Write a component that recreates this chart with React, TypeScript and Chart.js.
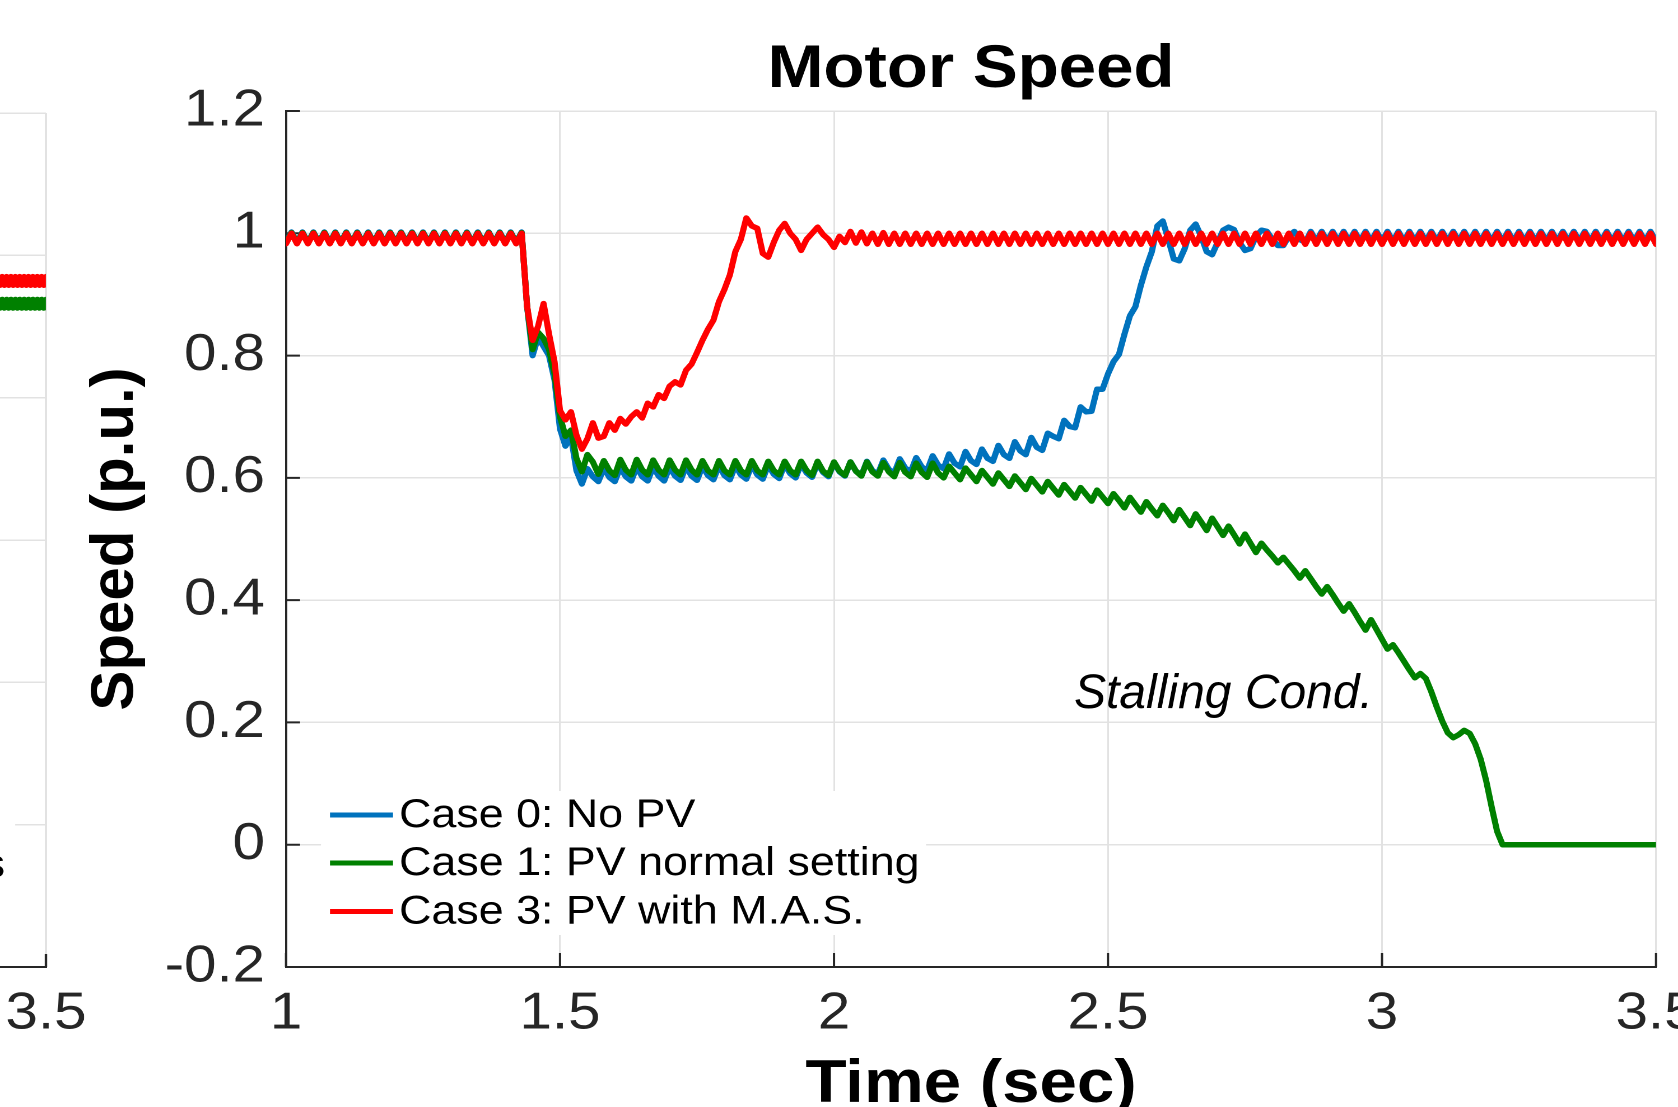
import React, { useEffect, useRef } from 'react';
import { Chart, registerables } from 'chart.js';

Chart.register(...registerables);

// ---------------- data ----------------
const xTickValues = [1, 1.5, 2, 2.5, 3, 3.5];
const xTickLabels = ['1', '1.5', '2', '2.5', '3', '3.5'];
const yTickValues = [-0.2, 0, 0.2, 0.4, 0.6, 0.8, 1, 1.2];
const yTickLabels = ['-0.2', '0', '0.2', '0.4', '0.6', '0.8', '1', '1.2'];

// sampled signals: t = 1.00 s ... 3.50 s, one sample every 0.01 s
const T_START = 1.0;
const T_STEP = 0.01;

// Case 0: No PV (blue)
const case0 = [
  0.985, 1.002, 0.985, 1.002, 0.985, 1.002, 0.985, 1.002, 0.985, 1.002,
  0.985, 1.002, 0.985, 1.002, 0.985, 1.002, 0.985, 1.002, 0.985, 1.002,
  0.985, 1.002, 0.985, 1.002, 0.985, 1.002, 0.985, 1.002, 0.985, 1.002,
  0.985, 1.002, 0.985, 1.002, 0.985, 1.002, 0.985, 1.002, 0.985, 1.002,
  0.985, 1.002, 0.985, 1.002, 0.88, 0.80, 0.83, 0.815, 0.80, 0.76,
  0.68, 0.652, 0.668, 0.612, 0.59, 0.615, 0.602, 0.594, 0.616, 0.601,
  0.594, 0.617, 0.602, 0.595, 0.618, 0.602, 0.595, 0.618, 0.603, 0.595,
  0.618, 0.603, 0.596, 0.619, 0.603, 0.596, 0.619, 0.604, 0.597, 0.62,
  0.604, 0.597, 0.62, 0.605, 0.598, 0.621, 0.605, 0.598, 0.621, 0.606,
  0.599, 0.622, 0.607, 0.60, 0.623, 0.608, 0.601, 0.624, 0.609, 0.602,
  0.625, 0.61, 0.603, 0.626, 0.611, 0.604, 0.627, 0.612, 0.606, 0.629,
  0.614, 0.608, 0.631, 0.616, 0.61, 0.633, 0.618, 0.612, 0.636, 0.621,
  0.615, 0.639, 0.624, 0.618, 0.643, 0.628, 0.622, 0.647, 0.632, 0.627,
  0.653, 0.638, 0.632, 0.659, 0.644, 0.638, 0.666, 0.65, 0.645, 0.673,
  0.668, 0.664, 0.694, 0.684, 0.682, 0.716, 0.708, 0.709, 0.745, 0.745,
  0.77, 0.79, 0.802, 0.835, 0.865, 0.88, 0.915, 0.945, 0.97, 1.012,
  1.02, 0.99, 0.958, 0.955, 0.975, 1.005, 1.015, 0.995, 0.97, 0.965,
  0.985, 1.005, 1.01, 1.006, 0.985, 0.972, 0.975, 0.995, 1.005, 1.003,
  0.99, 0.98, 0.98, 0.995, 1.003, 0.99, 0.985, 1.003, 0.987, 1.003,
  0.987, 1.003, 0.987, 1.003, 0.987, 1.003, 0.987, 1.003, 0.987, 1.003,
  0.987, 1.003, 0.987, 1.003, 0.987, 1.003, 0.987, 1.003, 0.987, 1.003,
  0.987, 1.003, 0.987, 1.003, 0.987, 1.003, 0.987, 1.003, 0.987, 1.003,
  0.987, 1.003, 0.987, 1.003, 0.987, 1.003, 0.987, 1.003, 0.987, 1.003,
  0.987, 1.003, 0.987, 1.003, 0.987, 1.003, 0.987, 1.003, 0.987, 1.003,
  0.987, 1.003, 0.987, 1.003, 0.987, 1.003, 0.987, 1.003, 0.987, 1.003,
  0.987,
];

// Case 1: PV normal setting (green)
const case1 = [
  0.984, 1.001, 0.984, 1.001, 0.984, 1.001, 0.984, 1.001, 0.984, 1.001,
  0.984, 1.001, 0.984, 1.001, 0.984, 1.001, 0.984, 1.001, 0.984, 1.001,
  0.984, 1.001, 0.984, 1.001, 0.984, 1.001, 0.984, 1.001, 0.984, 1.001,
  0.984, 1.001, 0.984, 1.001, 0.984, 1.001, 0.984, 1.001, 0.984, 1.001,
  0.984, 1.001, 0.984, 1.001, 0.88, 0.81, 0.838, 0.828, 0.81, 0.77,
  0.70, 0.668, 0.678, 0.632, 0.61, 0.638, 0.626, 0.606, 0.628, 0.612,
  0.604, 0.63, 0.613, 0.605, 0.63, 0.613, 0.605, 0.629, 0.613, 0.605,
  0.629, 0.613, 0.605, 0.629, 0.613, 0.605, 0.628, 0.612, 0.605, 0.628,
  0.612, 0.605, 0.628, 0.612, 0.605, 0.628, 0.612, 0.605, 0.627, 0.612,
  0.605, 0.627, 0.612, 0.605, 0.627, 0.612, 0.604, 0.627, 0.611, 0.604,
  0.626, 0.611, 0.604, 0.626, 0.611, 0.603, 0.626, 0.61, 0.603, 0.625,
  0.61, 0.602, 0.625, 0.609, 0.602, 0.624, 0.609, 0.601, 0.624, 0.608,
  0.600, 0.619, 0.608, 0.597, 0.616, 0.605, 0.594, 0.612, 0.601, 0.590,
  0.608, 0.597, 0.586, 0.603, 0.592, 0.581, 0.599, 0.588, 0.577, 0.594,
  0.583, 0.572, 0.589, 0.578, 0.567, 0.584, 0.573, 0.562, 0.580, 0.569,
  0.558, 0.574, 0.563, 0.551, 0.568, 0.556, 0.544, 0.561, 0.549, 0.538,
  0.555, 0.543, 0.530, 0.548, 0.535, 0.522, 0.541, 0.528, 0.514, 0.534,
  0.520, 0.506, 0.521, 0.507, 0.492, 0.508, 0.493, 0.478, 0.493, 0.482,
  0.472, 0.461, 0.470, 0.459, 0.448, 0.436, 0.448, 0.435, 0.422, 0.410,
  0.422, 0.409, 0.395, 0.382, 0.394, 0.380, 0.365, 0.351, 0.368, 0.352,
  0.336, 0.320, 0.327, 0.314, 0.300, 0.286, 0.273, 0.280, 0.272, 0.250,
  0.225, 0.202, 0.183, 0.175, 0.180, 0.187, 0.182, 0.165, 0.140, 0.105,
  0.062, 0.022, 0, 0, 0, 0, 0, 0, 0, 0,
  0, 0, 0, 0, 0, 0, 0, 0, 0, 0,
  0, 0, 0, 0, 0, 0, 0, 0, 0, 0,
  0,
];

// Case 3: PV with M.A.S. (red)
const case3 = [
  0.983, 1.0, 0.983, 1.0, 0.983, 1.0, 0.983, 1.0, 0.983, 1.0,
  0.983, 1.0, 0.983, 1.0, 0.983, 1.0, 0.983, 1.0, 0.983, 1.0,
  0.983, 1.0, 0.983, 1.0, 0.983, 1.0, 0.983, 1.0, 0.983, 1.0,
  0.983, 1.0, 0.983, 1.0, 0.983, 1.0, 0.983, 1.0, 0.983, 1.0,
  0.983, 1.0, 0.983, 1.0, 0.88, 0.825, 0.848, 0.885, 0.835, 0.79,
  0.71, 0.695, 0.708, 0.67, 0.647, 0.664, 0.69, 0.665, 0.668, 0.69,
  0.678, 0.697, 0.688, 0.70, 0.708, 0.698, 0.722, 0.716, 0.736, 0.73,
  0.75, 0.757, 0.752, 0.776, 0.786, 0.805, 0.825, 0.843, 0.858, 0.888,
  0.908, 0.932, 0.97, 0.99, 1.025, 1.012, 1.008, 0.967, 0.961, 0.985,
  1.005, 1.016, 1.0, 0.99, 0.972, 0.99, 1.0, 1.01, 0.998, 0.99,
  0.977, 0.995, 0.985, 1.003, 0.984, 1.002, 0.983, 1.0, 0.982, 1.001,
  0.982, 1.0, 0.982, 1.0, 0.982, 1.0, 0.982, 1.0, 0.982, 1.0,
  0.982, 1.0, 0.982, 1.0, 0.982, 1.0, 0.982, 1.0, 0.982, 1.0,
  0.982, 1.0, 0.982, 1.0, 0.982, 1.0, 0.982, 1.0, 0.982, 1.0,
  0.982, 1.0, 0.982, 1.0, 0.982, 1.0, 0.982, 1.0, 0.982, 1.0,
  0.982, 1.0, 0.982, 1.0, 0.982, 1.0, 0.982, 1.0, 0.982, 1.0,
  0.982, 1.0, 0.982, 1.0, 0.982, 1.0, 0.982, 1.0, 0.982, 1.0,
  0.982, 1.0, 0.982, 1.0, 0.982, 1.0, 0.982, 1.0, 0.982, 1.0,
  0.982, 1.0, 0.982, 1.0, 0.982, 1.0, 0.982, 1.0, 0.982, 1.0,
  0.982, 1.0, 0.982, 1.0, 0.982, 1.0, 0.982, 1.0, 0.982, 1.0,
  0.982, 1.0, 0.982, 1.0, 0.982, 1.0, 0.982, 1.0, 0.982, 1.0,
  0.982, 1.0, 0.982, 1.0, 0.982, 1.0, 0.982, 1.0, 0.982, 1.0,
  0.982, 1.0, 0.982, 1.0, 0.982, 1.0, 0.982, 1.0, 0.982, 1.0,
  0.982, 1.0, 0.982, 1.0, 0.982, 1.0, 0.982, 1.0, 0.982, 1.0,
  0.982, 1.0, 0.982, 1.0, 0.982, 1.0, 0.982, 1.0, 0.982, 1.0,
  0.982,
];

const seriesLabels = ['Case 0: No PV', 'Case 1: PV normal setting', 'Case 3: PV with M.A.S.'];
const seriesColors = ['#0072BD', '#008000', '#FF0000'];

const titleText = 'Motor Speed';
const xTitle = 'Time (sec)';
const yTitle = 'Speed (p.u.)';
const annotationText = 'Stalling Cond.';
const annotationT = 2.438;
const annotationV = 0.224;

// neighbouring (cropped) panel on the left: only its last samples are visible
const leftXTickValues = [3, 3.5];
const leftXTickLabels = ['3', '3.5'];
const leftYTickValues = [0, 0.2, 0.4, 0.6, 0.8, 1, 1.2];
const LEFT_T_START = 3.4;
const LEFT_T_STEP = 0.004;
const leftRed = [
  0.958, 0.970, 0.958, 0.970, 0.958, 0.970, 0.958, 0.970, 0.958, 0.970,
  0.958, 0.970, 0.958, 0.970, 0.958, 0.970, 0.958, 0.970, 0.958, 0.970,
  0.958, 0.970, 0.958, 0.970, 0.958, 0.970,
];
const leftGreen = [
  0.926, 0.938, 0.926, 0.938, 0.926, 0.938, 0.926, 0.938, 0.926, 0.938,
  0.926, 0.938, 0.926, 0.938, 0.926, 0.938, 0.926, 0.938, 0.926, 0.938,
  0.926, 0.938, 0.926, 0.938, 0.926, 0.938,
];
const leftLegendTail = 's';

// ---------------- layout / style ----------------
const FONT = '"Liberation Sans", Arial, Helvetica, sans-serif';
const AXIS_COLOR = '#262626';
const GRID_COLOR = '#e2e2e2';
const LINE_W = 5.5;
const PAGE_W = 1678;
const PAGE_H = 1107;
const STRETCH = 1.12; // the figure is horizontally stretched
const MAIN_W = Math.round(PAGE_W / STRETCH);
const LEFT_CSS_LEFT = -300;
const LEFT_CSS_W = 400;
const LEFT_W = Math.round(LEFT_CSS_W / STRETCH);

const PLOT_LEFT = 286;
const PLOT_RIGHT = 1656;
const PLOT_TOP = 111;
const PLOT_BOTTOM = 967;

const toPoints = (start: number, step: number, vals: number[]) =>
  vals.map((v, i) => ({ x: +(start + i * step).toFixed(4), y: v }));

function makeMain(canvas: HTMLCanvasElement) {
  const SX = PAGE_W / MAIN_W;
  const fx = (px: number) => px / SX;

  const decor = {
    id: 'mainDecor',
    beforeDatasetsDraw(chart: any) {
      const { ctx, chartArea: a, scales } = chart;
      ctx.save();
      ctx.strokeStyle = AXIS_COLOR;
      ctx.lineWidth = 2;
      ctx.beginPath();
      yTickValues.forEach((v) => {
        const p = scales.y.getPixelForValue(v);
        ctx.moveTo(a.left, p);
        ctx.lineTo(a.left + fx(14), p);
      });
      xTickValues.forEach((v) => {
        const p = scales.x.getPixelForValue(v);
        ctx.moveTo(p, a.bottom);
        ctx.lineTo(p, a.bottom - 14);
      });
      ctx.stroke();
      ctx.restore();
    },
    afterDatasetsDraw(chart: any) {
      const { ctx, scales } = chart;
      // legend
      ctx.save();
      ctx.fillStyle = '#ffffff';
      ctx.fillRect(fx(321), 791, fx(926) - fx(321), 935 - 791);
      const rows = [815, 863, 911.5];
      seriesLabels.forEach((lab, k) => {
        const yy = rows[k];
        ctx.strokeStyle = seriesColors[k];
        ctx.lineWidth = 5;
        ctx.lineCap = 'butt';
        ctx.beginPath();
        ctx.moveTo(fx(330), yy);
        ctx.lineTo(fx(393), yy);
        ctx.stroke();
        ctx.fillStyle = '#000000';
        ctx.font = `40px ${FONT}`;
        ctx.textAlign = 'left';
        ctx.textBaseline = 'middle';
        ctx.fillText(lab, fx(399), yy + 1);
      });
      ctx.restore();

      // annotation (not stretched)
      ctx.save();
      ctx.translate(scales.x.getPixelForValue(annotationT), scales.y.getPixelForValue(annotationV));
      ctx.scale(1 / SX, 1);
      ctx.font = `italic 48px ${FONT}`;
      ctx.fillStyle = '#000000';
      ctx.textAlign = 'left';
      ctx.textBaseline = 'alphabetic';
      ctx.fillText(annotationText, 0, 0);
      ctx.restore();
    },
    afterDraw(chart: any) {
      const { ctx, chartArea: a } = chart;
      const cx = (a.left + a.right) / 2;
      ctx.save();
      ctx.fillStyle = '#000000';
      ctx.textAlign = 'center';
      ctx.textBaseline = 'alphabetic';
      ctx.font = `bold 60px ${FONT}`;
      ctx.fillText(titleText, cx, 87);
      ctx.fillText(xTitle, cx, 1102);
      ctx.restore();

      ctx.save();
      ctx.translate(fx(133), (a.top + a.bottom) / 2);
      ctx.scale(1 / SX, 1);
      ctx.rotate(-Math.PI / 2);
      ctx.fillStyle = '#000000';
      ctx.textAlign = 'center';
      ctx.textBaseline = 'alphabetic';
      ctx.font = `bold 60px ${FONT}`;
      ctx.fillText(yTitle, 0, 0);
      ctx.restore();
    },
  };

  const datasets = [case0, case1, case3].map((vals, k) => ({
    label: seriesLabels[k],
    data: toPoints(T_START, T_STEP, vals),
    borderColor: seriesColors[k],
    backgroundColor: seriesColors[k],
    borderWidth: LINE_W,
    pointRadius: 0,
    tension: 0,
    fill: false,
    order: 3 - k,
  }));

  return new Chart(canvas, {
    type: 'line',
    data: { datasets } as any,
    options: {
      responsive: false,
      animation: false,
      devicePixelRatio: 2,
      events: [],
      layout: { padding: { top: PLOT_TOP, right: MAIN_W - fx(PLOT_RIGHT), bottom: 0, left: 0 } },
      elements: { line: { borderJoinStyle: 'round', borderCapStyle: 'round' }, point: { radius: 0 } },
      plugins: { legend: { display: false }, tooltip: { enabled: false }, title: { display: false } },
      scales: {
        x: {
          type: 'linear',
          min: 1,
          max: 3.5,
          afterBuildTicks: (axis: any) => { axis.ticks = xTickValues.map((value) => ({ value })); },
          afterFit: (axis: any) => { axis.height = PAGE_H - PLOT_BOTTOM; axis.paddingLeft = 0; axis.paddingRight = 0; },
          ticks: {
            callback: (_v: any, i: number) => xTickLabels[i],
            font: { family: FONT, size: 52 },
            color: AXIS_COLOR,
            padding: 15.8,
            maxRotation: 0,
            minRotation: 0,
            autoSkip: false,
          },
          grid: { color: GRID_COLOR, lineWidth: 1.5, drawTicks: false },
          border: { display: true, color: AXIS_COLOR, width: 2 },
        },
        y: {
          type: 'linear',
          min: -0.2,
          max: 1.2,
          afterBuildTicks: (axis: any) => { axis.ticks = yTickValues.map((value) => ({ value })); },
          afterFit: (axis: any) => { axis.width = fx(PLOT_LEFT); axis.paddingTop = 0; axis.paddingBottom = 0; },
          ticks: {
            callback: (_v: any, i: number) => yTickLabels[i],
            font: { family: FONT, size: 52 },
            color: AXIS_COLOR,
            padding: fx(21),
            autoSkip: false,
          },
          grid: { color: GRID_COLOR, lineWidth: 1.5, drawTicks: false },
          border: { display: true, color: AXIS_COLOR, width: 2 },
        },
      },
    } as any,
    plugins: [decor],
  });
}

function makeLeft(canvas: HTMLCanvasElement) {
  const SXL = LEFT_CSS_W / LEFT_W;
  const fxl = (pageX: number) => (pageX - LEFT_CSS_LEFT) / SXL;

  const decor = {
    id: 'leftDecor',
    beforeDatasetsDraw(chart: any) {
      const { ctx, chartArea: a, scales } = chart;
      ctx.save();
      ctx.strokeStyle = AXIS_COLOR;
      ctx.lineWidth = 2;
      ctx.beginPath();
      leftXTickValues.forEach((v) => {
        const p = scales.x.getPixelForValue(v);
        ctx.moveTo(p, a.bottom);
        ctx.lineTo(p, a.bottom - 13);
      });
      ctx.stroke();
      ctx.restore();
    },
    afterDatasetsDraw(chart: any) {
      const { ctx } = chart;
      ctx.save();
      ctx.fillStyle = '#ffffff';
      ctx.fillRect(0, 745, fxl(15), 910 - 745);
      ctx.fillStyle = '#000000';
      ctx.font = `40px ${FONT}`;
      ctx.textAlign = 'right';
      ctx.textBaseline = 'alphabetic';
      ctx.fillText(leftLegendTail, fxl(5), 877);
      ctx.restore();
    },
  };

  return new Chart(canvas, {
    type: 'line',
    data: {
      datasets: [
        { label: 'red', data: toPoints(LEFT_T_START, LEFT_T_STEP, leftRed), borderColor: '#FF0000', borderWidth: LINE_W, pointRadius: 0, tension: 0, order: 1 },
        { label: 'green', data: toPoints(LEFT_T_START, LEFT_T_STEP, leftGreen), borderColor: '#008000', borderWidth: LINE_W, pointRadius: 0, tension: 0, order: 2 },
      ],
    } as any,
    options: {
      responsive: false,
      animation: false,
      devicePixelRatio: 2,
      events: [],
      layout: { padding: { top: 113, right: LEFT_W - fxl(46), bottom: 0, left: 0 } },
      elements: { line: { borderJoinStyle: 'round', borderCapStyle: 'round' } },
      plugins: { legend: { display: false }, tooltip: { enabled: false } },
      scales: {
        x: {
          type: 'linear',
          min: 3,
          max: 3.5,
          afterBuildTicks: (axis: any) => { axis.ticks = leftXTickValues.map((value) => ({ value })); },
          afterFit: (axis: any) => { axis.height = PAGE_H - PLOT_BOTTOM; axis.paddingLeft = 0; axis.paddingRight = 0; },
          ticks: {
            callback: (_v: any, i: number) => leftXTickLabels[i],
            font: { family: FONT, size: 52 },
            color: AXIS_COLOR,
            padding: 15.8,
            maxRotation: 0,
            minRotation: 0,
            autoSkip: false,
          },
          grid: { color: GRID_COLOR, lineWidth: 1.5, drawTicks: false },
          border: { display: true, color: AXIS_COLOR, width: 2 },
        },
        y: {
          type: 'linear',
          min: 0,
          max: 1.2,
          afterBuildTicks: (axis: any) => { axis.ticks = leftYTickValues.map((value) => ({ value })); },
          afterFit: (axis: any) => { axis.width = fxl(-228); axis.paddingTop = 0; axis.paddingBottom = 0; },
          ticks: { display: false },
          grid: { color: GRID_COLOR, lineWidth: 1.5, drawTicks: false },
          border: { display: true, color: AXIS_COLOR, width: 2 },
        },
      },
    } as any,
    plugins: [decor],
  });
}

export default function App() {
  const mainRef = useRef<HTMLCanvasElement>(null);
  const leftRef = useRef<HTMLCanvasElement>(null);

  useEffect(() => {
    const charts: Chart[] = [];
    if (leftRef.current) charts.push(makeLeft(leftRef.current));
    if (mainRef.current) charts.push(makeMain(mainRef.current));
    return () => {
      charts.forEach((c) => c.destroy());
    };
  }, []);

  return (
    <div
      style={{
        position: 'absolute',
        left: 0,
        top: 0,
        width: PAGE_W,
        height: PAGE_H,
        overflow: 'hidden',
        background: '#ffffff',
      }}
    >
      <canvas
        ref={leftRef}
        width={LEFT_W}
        height={PAGE_H}
        style={{ position: 'absolute', left: LEFT_CSS_LEFT, top: 0, width: LEFT_CSS_W, height: PAGE_H }}
      />
      <canvas
        ref={mainRef}
        width={MAIN_W}
        height={PAGE_H}
        style={{ position: 'absolute', left: 0, top: 0, width: PAGE_W, height: PAGE_H }}
      />
    </div>
  );
}
